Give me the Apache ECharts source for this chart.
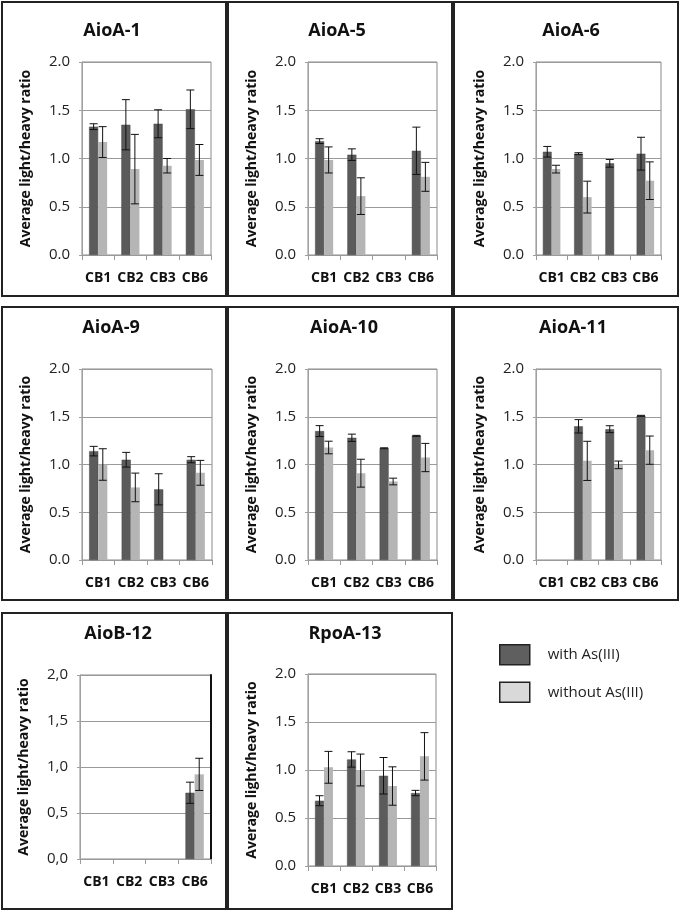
<!DOCTYPE html>
<html>
<head>
<meta charset="utf-8">
<script src="https://cdn.jsdelivr.net/npm/echarts@6/dist/echarts.min.js"></script>
<style>html,body{margin:0;padding:0;background:#fff;}#c{width:680px;height:912px;}</style>
</head>
<body>
<div id="c"></div>
<script>
// ---- Data ----
const categories = ['CB1', 'CB2', 'CB3', 'CB6'];
const panelTitles = ['AioA-1', 'AioA-5', 'AioA-6', 'AioA-9', 'AioA-10', 'AioA-11', 'AioB-12', 'RpoA-13'];
const yTicks = [0, 0.5, 1.0, 1.5, 2.0];

const withAs = [
  [1.33, 1.35, 1.36, 1.51],
  [1.18, 1.04, null, 1.08],
  [1.07, 1.05, 0.95, 1.05],
  [1.14, 1.05, 0.74, 1.05],
  [1.35, 1.28, 1.17, 1.30],
  [null, 1.40, 1.37, 1.51],
  [null, null, null, 0.72],
  [0.68, 1.11, 0.94, 0.76]
];
const withAsErr = [
  [0.03, 0.26, 0.145, 0.20],
  [0.025, 0.06, null, 0.245],
  [0.055, 0.01, 0.04, 0.17],
  [0.05, 0.077, 0.163, 0.032],
  [0.057, 0.038, 0.005, 0.005],
  [null, 0.07, 0.036, 0.005],
  [null, null, null, 0.115],
  [0.052, 0.08, 0.19, 0.028]
];
const withoutAs = [
  [1.17, 0.89, 0.925, 0.985],
  [0.985, 0.61, null, 0.81],
  [0.89, 0.60, null, 0.77],
  [1.00, 0.76, null, 0.913],
  [1.178, 0.909, 0.822, 1.073],
  [null, 1.038, 0.996, 1.15],
  [null, null, null, 0.92],
  [1.028, 1.00, 0.833, 1.142]
];
const withoutAsErr = [
  [0.16, 0.36, 0.075, 0.16],
  [0.135, 0.19, null, 0.15],
  [0.04, 0.165, null, 0.195],
  [0.165, 0.15, null, 0.13],
  [0.066, 0.146, 0.035, 0.148],
  [null, 0.205, 0.04, 0.148],
  [null, null, null, 0.175],
  [0.166, 0.166, 0.2, 0.247]
];

// ---- Layout (style only) ----
const grids = [
  {left: 82, top: 62, width: 129, height: 193},
  {left: 308, top: 62, width: 129, height: 193},
  {left: 536, top: 62, width: 125, height: 193},
  {left: 82, top: 369, width: 130, height: 191},
  {left: 308, top: 369, width: 129, height: 191},
  {left: 536, top: 369, width: 125, height: 191},
  {left: 80, top: 675, width: 131, height: 184},
  {left: 308, top: 674, width: 128, height: 192}
];
const boxes = [
  [2, 2, 224, 294], [228, 2, 224, 294], [454, 2, 224, 294],
  [2, 307, 224, 293], [228, 307, 224, 293], [454, 307, 224, 293],
  [2, 613, 224, 296], [228, 613, 224, 296]
];
const titlePos = [[112, 31], [337, 31], [571, 31], [111, 328], [344, 328], [573, 328], [118, 634], [345, 634]];

const FONT = '"Open Sans", "Liberation Sans", sans-serif';
const DARK = '#5b5b5b', LIGHT = '#b5b5b5';
const BAR_W = 0.28;

const option = {
  animation: false,
  backgroundColor: '#fff',
  grid: [], xAxis: [], yAxis: [], series: [],
  legend: {
    orient: 'vertical', left: 499, top: 644,
    itemWidth: 30, itemHeight: 20, itemGap: 16, padding: 0,
    icon: 'rect',
    itemStyle: {borderColor: '#222', borderWidth: 1.5},
    textStyle: {fontFamily: FONT, fontSize: 15, color: '#222', padding: [0, 0, 0, 13]},
    data: [
      {name: 'with As(III)', itemStyle: {color: '#5f5f5f'}},
      {name: 'without As(III)', itemStyle: {color: '#d9d9d9'}}
    ],
    selectedMode: false
  },
  graphic: []
};

function errSeries(gi, vals, errs, sign, name) {
  const data = [];
  vals.forEach((v, i) => { if (v != null && errs[i] != null) data.push([i, v, errs[i]]); });
  return {
    type: 'custom', name: name, xAxisIndex: gi, yAxisIndex: gi, z: 5,
    encode: {x: 0, y: 1},
    data: data,
    renderItem: function (params, api) {
      const x = api.value(0), v = api.value(1), e = api.value(2);
      const hi = api.coord([x, v + e]);
      const lo = api.coord([x, v - e]);
      const band = api.size([1, 0])[0];
      const cx = hi[0] + sign * band * BAR_W / 2;
      const cap = 4;
      const st = {stroke: '#111', lineWidth: 1};
      return {
        type: 'group', children: [
          {type: 'line', shape: {x1: cx, y1: hi[1], x2: cx, y2: lo[1]}, style: st},
          {type: 'line', shape: {x1: cx - cap, y1: hi[1], x2: cx + cap, y2: hi[1]}, style: st},
          {type: 'line', shape: {x1: cx - cap, y1: lo[1], x2: cx + cap, y2: lo[1]}, style: st}
        ]
      };
    }
  };
}

for (let g = 0; g < 8; g++) {
  const comma = panelTitles[g] === 'AioB-12';
  option.grid.push(Object.assign({show: true, borderColor: '#8a8a8a', borderWidth: 1}, grids[g]));
  option.xAxis.push({
    type: 'category', gridIndex: g, data: categories,
    axisLine: {show: true, lineStyle: {color: '#9a9a9a', width: 1}},
    axisTick: {show: true, length: 5, lineStyle: {color: '#9a9a9a'}},
    axisLabel: {interval: 0, margin: 16, fontFamily: FONT, fontWeight: 'bold', fontSize: 14, color: '#111'},
    splitLine: {show: false}
  });
  option.yAxis.push({
    type: 'value', gridIndex: g, min: yTicks[0], max: yTicks[yTicks.length - 1], interval: 0.5,
    name: 'Average light/heavy ratio', nameLocation: 'middle', nameGap: 49, nameRotate: 90,
    nameTextStyle: {fontFamily: FONT, fontWeight: 'bold', fontSize: 14, color: '#111'},
    axisLine: {show: true, lineStyle: {color: '#a0a0a0', width: 1}},
    axisTick: {show: true, length: 3, lineStyle: {color: '#a0a0a0'}},
    axisLabel: {
      margin: 12, fontFamily: FONT, fontSize: 15, color: '#222',
      formatter: function (v) { const s = v.toFixed(1); return comma ? s.replace('.', ',') : s; }
    },
    splitLine: {show: true, lineStyle: {color: '#9a9a9a', width: 1}}
  });
  option.series.push({
    type: 'bar', name: 'with As(III)', xAxisIndex: g, yAxisIndex: g,
    data: withAs[g], barWidth: (BAR_W * 100) + '%', barGap: '0%',
    itemStyle: {color: DARK, borderColor: '#4a4a4a', borderWidth: 0.5}
  });
  option.series.push({
    type: 'bar', name: 'without As(III)', xAxisIndex: g, yAxisIndex: g,
    data: withoutAs[g], barWidth: (BAR_W * 100) + '%', barGap: '0%',
    itemStyle: {color: LIGHT}
  });
  option.series.push(errSeries(g, withAs[g], withAsErr[g], -1, 'err-with-' + g));
  option.series.push(errSeries(g, withoutAs[g], withoutAsErr[g], 1, 'err-without-' + g));

  const b = boxes[g];
  option.graphic.push({
    type: 'rect', shape: {x: b[0], y: b[1], width: b[2], height: b[3]},
    style: {fill: 'none', stroke: '#222', lineWidth: 2}, z: 0, silent: true
  });
  option.graphic.push({
    type: 'text', x: titlePos[g][0], y: titlePos[g][1],
    style: {text: panelTitles[g], textAlign: 'center', textVerticalAlign: 'middle',
      font: 'bold 18px ' + FONT, fill: '#111'}, z: 10, silent: true
  });
}

// AioB-12 has a dark right axis line
option.yAxis.push({
  type: 'value', gridIndex: 6, position: 'right', min: 0, max: 2, interval: 0.5,
  axisLine: {show: true, lineStyle: {color: '#111', width: 2}},
  axisTick: {show: false}, axisLabel: {show: false}, splitLine: {show: false}
});

const chart = echarts.init(document.getElementById('c'), null, {renderer: 'canvas'});
chart.setOption(option);
</script>
</body>
</html>
